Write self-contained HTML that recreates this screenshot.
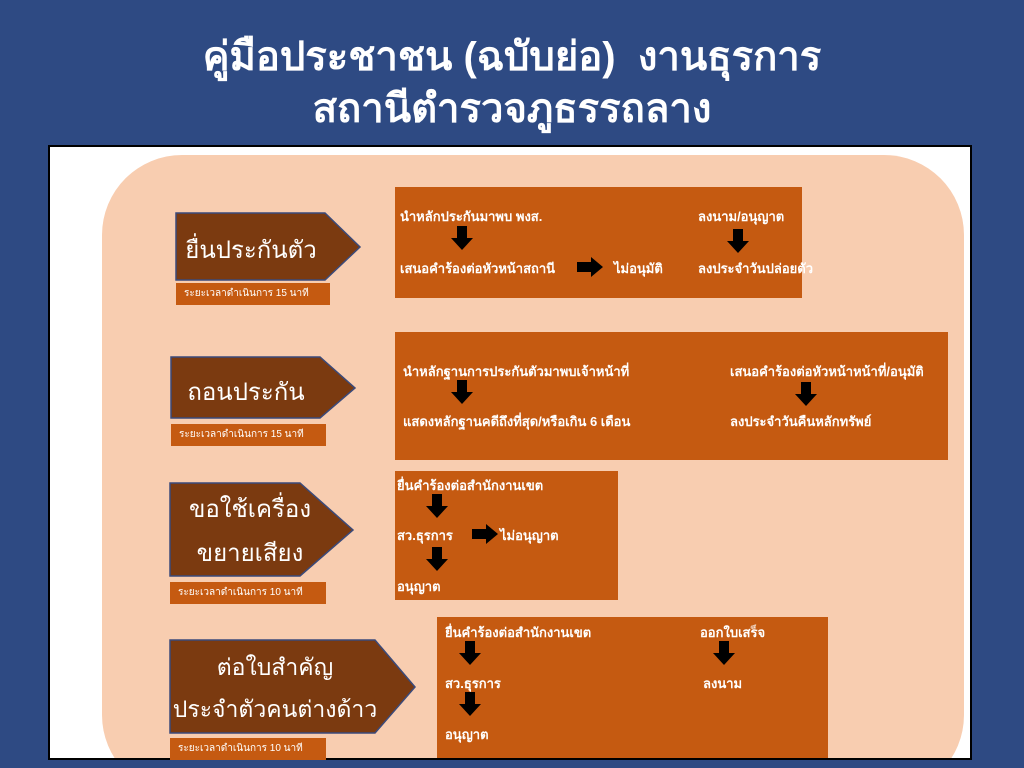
<!DOCTYPE html>
<html><head><meta charset="utf-8"><style>
body{margin:0;width:1024px;height:768px;background:#2e4a83;position:relative;overflow:hidden;font-family:"Liberation Sans","Noto Sans CJK SC",sans-serif}
.t{position:absolute;left:0;width:1024px;text-align:center;color:#fff;font-weight:bold;font-size:40px}
.panel{position:absolute;left:48px;top:145px;width:920px;height:611px;background:#fff;border:2px solid #000;overflow:hidden}
.peach{position:absolute;left:52px;top:8px;width:862px;height:640px;background:#f8cdb0;border-radius:80px}
.box{position:absolute;background:#c55a11;color:#fff;font-size:13px}
.lab{position:absolute;background:#c55a11;color:#fff;font-size:10px;padding-left:8px;line-height:22px}
.tx{position:absolute;white-space:nowrap}
svg{position:absolute;left:0;top:0}
.big{position:absolute;text-align:center;color:#fff;font-size:24px;white-space:nowrap}
</style></head><body>
<div class="t" style="top:24px">คู่มือประชาชน (ฉบับย่อ)&nbsp; งานธุรการ</div>
<div class="t" style="top:76px">สถานีตำรวจภูธรรถลาง</div>
<div class="panel">
<div class="peach"></div>
</div>
<svg width="1024" height="768">
<g fill="#7b3a10" stroke="#3b4a7a" stroke-width="1.5">
<polygon points="176,213 325,213 360,247 325,280 176,280"/>
<polygon points="171,357 320,357 355,388 320,418 171,418"/>
<polygon points="170,483 300,483 353,530 300,576 170,576"/>
<polygon points="170,640 375,640 415,687 375,733 170,733"/>
</g>
</svg>
<div class="big" style="left:176px;top:230px;width:150px">ยื่นประกันตัว</div>
<div class="big" style="left:171px;top:372px;width:150px">ถอนประกัน</div>
<div class="big" style="left:170px;top:488px;width:160px;line-height:44px">ขอใช้เครื่อง<br>ขยายเสียง</div>
<div class="big" style="left:170px;top:646px;width:210px;line-height:42px;font-size:23px">ต่อใบสำคัญ<br>ประจำตัวคนต่างด้าว</div>
<div class="lab" style="left:176px;top:283px;width:146px">ระยะเวลาดำเนินการ 15 นาที</div>
<div class="lab" style="left:171px;top:424px;width:147px">ระยะเวลาดำเนินการ 15 นาที</div>
<div class="lab" style="left:170px;top:582px;width:148px">ระยะเวลาดำเนินการ 10 นาที</div>
<div class="lab" style="left:170px;top:738px;width:148px">ระยะเวลาดำเนินการ 10 นาที</div>
<div class="box" style="left:395px;top:187px;width:407px;height:111px"></div>
<div class="box" style="left:395px;top:332px;width:553px;height:128px"></div>
<div class="box" style="left:395px;top:471px;width:223px;height:129px"></div>
<div class="box" style="left:437px;top:617px;width:391px;height:141px"></div>
<div style="position:absolute;left:0;top:0;color:#fff;font-size:13px;font-weight:bold">
<div class="tx" style="left:400px;top:206px">นำหลักประกันมาพบ พงส.</div>
<div class="tx" style="left:698px;top:206px">ลงนาม/อนุญาต</div>
<div class="tx" style="left:400px;top:258px">เสนอคำร้องต่อหัวหน้าสถานี</div>
<div class="tx" style="left:614px;top:258px">ไม่อนุมัติ</div>
<div class="tx" style="left:698px;top:258px">ลงประจำวันปล่อยตัว</div>
<div class="tx" style="left:403px;top:361px">นำหลักฐานการประกันตัวมาพบเจ้าหน้าที่</div>
<div class="tx" style="left:730px;top:361px">เสนอคำร้องต่อหัวหน้าหน้าที่/อนุมัติ</div>
<div class="tx" style="left:403px;top:411px">แสดงหลักฐานคดีถึงที่สุด/หรือเกิน 6 เดือน</div>
<div class="tx" style="left:730px;top:411px">ลงประจำวันคืนหลักทรัพย์</div>
<div class="tx" style="left:397px;top:475px">ยื่นคำร้องต่อสำนักงานเขต</div>
<div class="tx" style="left:397px;top:525px">สว.ธุรการ</div>
<div class="tx" style="left:500px;top:525px">ไม่อนุญาต</div>
<div class="tx" style="left:397px;top:576px">อนุญาต</div>
<div class="tx" style="left:445px;top:622px">ยื่นคำร้องต่อสำนักงานเขต</div>
<div class="tx" style="left:700px;top:622px">ออกใบเสร็จ</div>
<div class="tx" style="left:445px;top:673px">สว.ธุรการ</div>
<div class="tx" style="left:703px;top:673px">ลงนาม</div>
<div class="tx" style="left:445px;top:724px">อนุญาต</div>
</div>
<svg width="1024" height="768">
<defs>
<polygon id="d" points="-5,0 5,0 5,12 11,12 0,24 -11,12 -5,12" fill="#000"/>
<polygon id="r" points="0,-5 14,-5 14,-10 26,0 14,10 14,5 0,5" fill="#000"/>
</defs>
<use href="#d" x="462" y="226"/>
<use href="#d" x="738" y="229"/>
<use href="#r" x="577" y="267"/>
<use href="#d" x="462" y="380"/>
<use href="#d" x="806" y="382"/>
<use href="#d" x="437" y="494"/>
<use href="#d" x="437" y="547"/>
<use href="#r" x="472" y="534"/>
<use href="#d" x="470" y="641"/>
<use href="#d" x="724" y="641"/>
<use href="#d" x="470" y="692"/>
</svg>
</body></html>
